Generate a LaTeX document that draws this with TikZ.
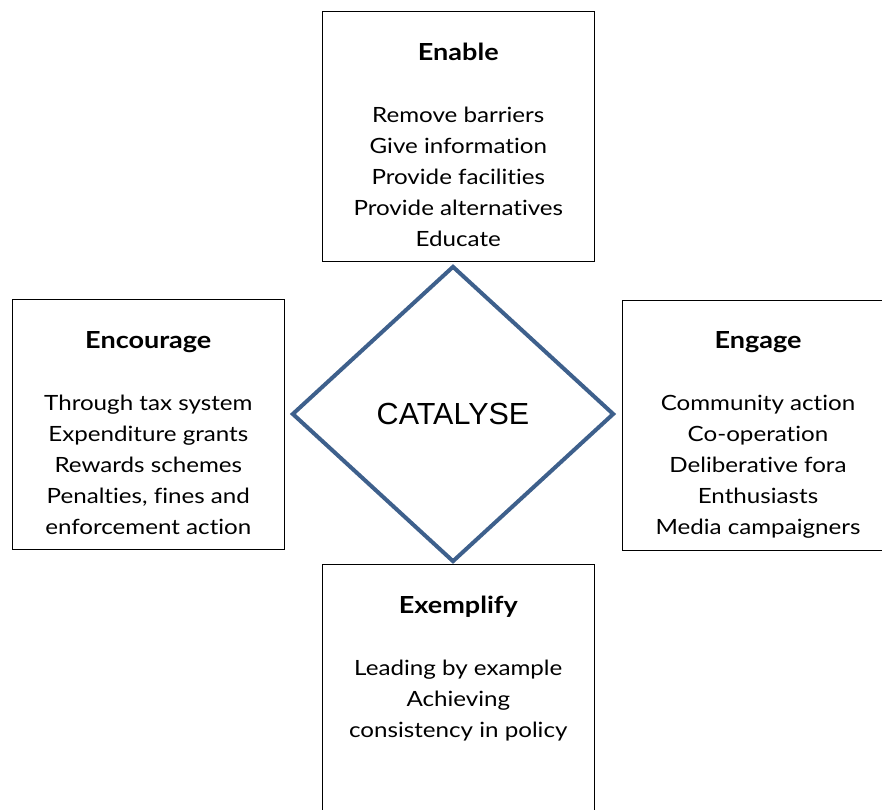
\documentclass[tikz,border=0pt]{standalone}
\usepackage{fontspec}
\setmainfont{Lato}[FakeStretch=1.15, Ligatures=NoCommon]
\newfontfamily\hubfont{Liberation Sans}
\usetikzlibrary{positioning,shapes.geometric}
\definecolor{hubblue}{RGB}{62,96,140}
\newcommand{\boxtitle}[1]{{\fontsize{23.5}{31}\selectfont\bfseries #1}}
\tikzset{
  box/.style={draw=black, line width=1pt, minimum width=272pt, minimum height=250pt, inner sep=0pt},
  boxtext/.style={anchor=north, align=center, inner sep=0pt, font=\fontsize{21}{31}\selectfont},
  hub/.style={diamond, draw=hubblue, line width=4pt, minimum width=322pt, minimum height=296pt,
    inner sep=0pt, font=\hubfont\fontsize{30.5}{34}\selectfont}
}
\begin{document}
\begin{tikzpicture}[x=1pt,y=-1pt]
  \useasboundingbox (0,0) rectangle (882,809);

  % the four boxes
  \node[box] (enable) at (458.3,136) {};
  \node[box] (encourage) at (148.3,424.3) {};
  \node[box] (engage) at (758,425) {};
  \node[box] (exemplify) at (458.3,689.7) {};

  % texts in the boxes
  \node[boxtext, below=32pt of enable.north] (enabletext)
    {\boxtitle{Enable}\\[31pt]Remove barriers\\Give information\\Provide facilities\\Provide alternatives\\Educate};
  \node[boxtext, below=32pt of encourage.north] (encouragetext)
    {\boxtitle{Encourage}\\[31pt]Through tax system\\Expenditure grants\\Rewards schemes\\Penalties, fines and\\enforcement action};
  \node[boxtext, below=32pt of engage.north] (engagetext)
    {\boxtitle{Engage}\\[31pt]Community action\\Co-operation\\Deliberative fora\\Enthusiasts\\Media campaigners};
  \node[boxtext, below=32pt of exemplify.north] (exemplifytext)
    {\boxtitle{Exemplify}\\[31pt]Leading by example\\Achieving\\consistency in policy};

  % centre
  \node[hub] (catalyse) at (453,414) {CATALYSE};
\end{tikzpicture}
\end{document}
